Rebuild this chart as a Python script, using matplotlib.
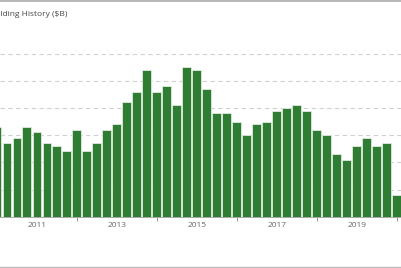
import matplotlib.pyplot as plt
from matplotlib.lines import Line2D

# quarterly holding values ($B), first entry is the quarter cut off at the left edge
quarters = list(range(-1, 40))
values = [3.3,
          2.7, 2.9, 3.3, 3.1, 2.7, 2.6, 2.4, 3.2, 2.4, 2.7,
          3.2, 3.4, 4.2, 4.6, 5.4, 4.6, 4.8, 4.1, 5.5, 5.4,
          4.7, 3.8, 3.8, 3.5, 3.0, 3.4, 3.5, 3.9, 4.0, 4.1,
          3.9, 3.2, 3.0, 2.3, 2.1, 2.6, 2.9, 2.6, 2.7, 0.8]
year_labels = ['2011', '2013', '2015', '2017', '2019']
label_pos = [3, 11, 19, 27, 35]
tick_pos = [7, 15, 23, 31, 39]

plt.rcParams['font.family'] = ['Open Sans', 'DejaVu Sans']

fig = plt.figure(figsize=(4.02, 2.68), dpi=100)
W, H = 402, 268
ax = fig.add_axes([0, 51.3 / H, 1, (216.7 - 26.3) / H])

ax.bar(quarters, values, width=0.84, color='#2e7d32', edgecolor='#eef5ee',
       linewidth=0.5, zorder=2)

ax.set_xlim(-0.67, 39.53)
ax.set_ylim(0, 7)
ax.set_yticks([1, 2, 3, 4, 5, 6])
ax.grid(True, axis='y', linestyle=(0, (4, 3)), color='#d0d0d0', linewidth=0.8, zorder=0)
ax.tick_params(axis='y', left=False, labelleft=False)

ax.set_xticks(label_pos)
ax.set_xticklabels(year_labels, fontsize=6, color='#666666')
ax.tick_params(axis='x', length=0, pad=4)
ax.set_xticks(tick_pos, minor=True)
ax.tick_params(axis='x', which='minor', length=3, width=0.8, color='#999999')

for s in ['top', 'left', 'right']:
    ax.spines[s].set_visible(False)
ax.spines['bottom'].set_color('#999999')
ax.spines['bottom'].set_linewidth(0.6)

fig.text(-11.5 / W, 1 - 14 / H, 'Holding History ($B)', fontsize=6,
         color='#444444', va='center', ha='left')

fig.add_artist(Line2D([0, 1], [1 - 0.8 / H, 1 - 0.8 / H], transform=fig.transFigure,
                      color='#aaaaaa', linewidth=1.2))
fig.add_artist(Line2D([0, 1], [1 - 266.5 / H, 1 - 266.5 / H], transform=fig.transFigure,
                      color='#bbbbbb', linewidth=1.0))

plt.savefig('out.png', dpi=100, facecolor='w')
plt.close()
